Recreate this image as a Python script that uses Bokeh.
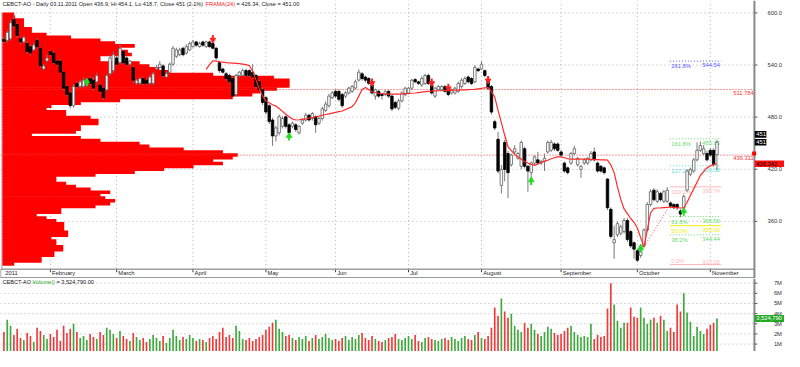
import numpy as np
from bokeh.plotting import figure
from bokeh.models import Range1d, Label, ColumnDataSource
from bokeh.layouts import column
from bokeh.embed import file_html
from bokeh.resources import INLINE
from bokeh.core.properties import value

FONT = "Liberation Sans"

# ---------------- data ----------------
opens = [569.5, 568.4, 570.3, 592.3, 586.8, 570.3, 566.6, 564.8, 561.0, 557.4,
         568.4, 559.3, 535.4, 544.6, 555.6, 553.8, 544.6, 544.6, 531.7, 515.2,
         507.9, 493.2, 518.9, 515.2, 515.2, 517.0, 524.4, 522.6, 520.7, 517.0,
         513.4, 511.5, 529.9, 533.6, 548.2, 542.7, 555.6, 548.2, 540.9, 537.2,
         518.9, 518.9, 524.4, 522.6, 518.9, 518.9, 535.4, 537.2, 539.0, 526.2,
         531.7, 540.9, 550.1, 551.9, 559.3, 553.8, 557.4, 561.1, 566.6, 561.1,
         566.6, 561.1, 566.6, 564.8, 559.3, 542.7, 535.4, 529.9, 528.0, 524.4,
         506.0, 528.0, 528.0, 533.6, 533.6, 531.7, 528.0, 520.7, 511.5, 502.4,
         493.2, 476.7, 458.3, 462.0, 469.4, 480.4, 471.2, 469.4, 471.2, 462.0,
         473.0, 476.7, 482.2, 478.5, 480.4, 473.0, 478.5, 487.7, 493.2, 502.4,
         509.7, 509.7, 506.0, 504.2, 507.9, 509.7, 513.4, 522.6, 529.9, 526.2,
         524.4, 517.0, 504.2, 509.7, 506.0, 506.0, 509.7, 504.2, 496.8, 490.2,
         498.7, 506.0, 507.8, 513.3, 523.2, 520.7, 517.0, 518.8, 528.0, 517.0,
         504.2, 511.5, 511.5, 515.2, 513.3, 507.8, 507.8, 509.7, 515.2, 518.8,
         526.2, 524.4, 520.7, 535.4, 535.4, 533.5, 522.5, 515.2, 474.8, 454.6,
         401.4, 450.9, 438.1, 425.2, 439.9, 432.6, 423.4, 443.6, 423.4, 416.1,
         427.1, 430.8, 427.1, 428.9, 439.9, 441.8, 449.1, 449.1, 439.9, 427.1,
         421.6, 427.1, 438.1, 425.2, 419.8, 427.1, 427.1, 430.8, 439.9, 427.1,
         423.4, 421.6, 408.7, 373.9, 335.3, 344.5, 346.4, 348.2, 361.0, 348.2,
         335.3, 326.2, 320.7, 331.7, 350.0, 379.4, 395.9, 383.1, 392.2, 383.1,
         383.1, 381.2, 379.4, 379.4, 372.0, 375.7, 395.9, 414.2, 417.9, 430.8,
         441.8, 438.1, 438.1, 441.8, 441.8, 436.9]
highs = [572, 580, 592, 598, 589, 572, 574, 567, 563, 566,
         571, 561, 541, 552, 557, 556, 546, 547, 533, 517,
         510, 518, 521, 523, 526, 524, 527, 526, 531, 519,
         515, 530, 551, 556, 551, 565, 557, 550, 546, 539,
         524, 526, 526, 524, 528, 532, 540, 544.6, 541, 532,
         543, 562, 560, 560, 561, 564, 567, 569, 568, 567,
         568, 568, 568, 567, 561, 545, 537, 532, 530, 526,
         530, 533, 536, 536, 535, 541, 530, 523, 514, 504,
         495, 479, 470, 483, 481, 482, 473, 475, 473, 471,
         479, 485, 484, 486, 482, 480, 492, 498, 507, 510,
         512, 511, 508, 510, 515, 517, 523, 535, 532, 528,
         526, 519, 513, 511, 507, 511, 511, 506, 499, 501,
         510, 515, 515, 524, 525, 522, 527, 530, 530, 519,
         515, 517, 517, 517, 515, 513, 515, 521, 525, 527,
         528, 526, 540, 537, 544.5, 535, 524, 517, 477, 463,
         425, 454, 441, 438, 447.6, 440, 453, 446, 425, 429,
         436, 440, 431, 438, 453, 454, 451, 451, 442, 429,
         423, 440, 447, 434, 425, 433, 434, 441, 445, 429,
         425, 423, 410, 376, 355, 360, 356, 364, 364, 350,
         337, 328, 334, 352, 382, 397, 398, 397, 394, 396,
         399.5, 383, 381, 381, 374, 391, 420, 422, 433, 450.9,
         452, 448, 441, 444, 444, 454.1]
lows = [565, 566, 568, 583, 572, 564, 565, 553, 551, 556,
        559, 537, 534, 543, 550, 541, 539, 530, 511, 504,
        490, 491, 513, 513, 514, 515, 517, 511, 519, 508,
        500, 510, 528, 531, 539, 541, 541, 539, 539, 520,
        517, 517, 517, 517, 517, 517, 534, 536, 526, 525,
        530, 539, 548, 550, 550, 552, 556, 560, 561, 560,
        561, 560, 560, 558, 546, 531, 530, 522, 519, 502,
        504, 526, 527, 526, 526, 524, 513, 510, 494, 483,
        472, 447, 452, 459, 467, 467, 459, 467, 463, 460,
        471, 475, 475, 476, 462, 471, 476, 486, 491, 501,
        502, 498, 491, 502, 506, 508, 512, 521, 522, 520,
        517, 506, 500, 502, 500, 504, 502, 487, 489, 488,
        497, 504, 506, 511, 519, 517, 515, 517, 517, 506,
        502, 510, 510, 508, 504, 506, 506, 508, 513, 517,
        519, 517, 519, 532, 534, 526, 511, 483, 465, 415,
        392, 406, 386.7, 423, 438, 431, 420, 421, 394, 402,
        425, 425, 425, 418, 438, 440, 441, 440, 434, 416,
        414, 425, 436, 423, 410, 425, 425, 429, 429, 416,
        416, 414, 373, 340, 317, 342, 344, 346, 336, 329,
        317, 313, 318, 330, 348, 377, 383, 381, 383, 381,
        381, 375, 374, 373, 364.7, 374, 394, 412, 416, 429,
        440, 436, 429, 434, 423, 418.7]
closes = [567.3, 577.6, 588.6, 585.0, 574.0, 566.6, 572.0, 555.6, 553.8, 563.0,
          561.0, 539.0, 539.0, 548.2, 551.9, 542.7, 540.9, 531.7, 513.4, 506.0,
          493.2, 515.2, 515.2, 520.7, 522.6, 522.6, 518.9, 513.4, 528.0, 509.7,
          502.4, 528.0, 548.2, 551.9, 540.9, 559.3, 542.7, 540.9, 544.6, 522.6,
          522.6, 524.4, 518.9, 518.9, 526.2, 529.9, 537.2, 540.9, 528.0, 529.9,
          540.9, 559.3, 557.4, 557.4, 551.9, 561.1, 564.8, 566.6, 562.9, 564.8,
          562.9, 566.6, 561.1, 559.3, 548.2, 533.6, 531.7, 524.4, 520.7, 504.2,
          528.0, 531.7, 533.6, 528.0, 528.0, 526.2, 515.2, 511.5, 496.9, 485.9,
          474.9, 458.3, 467.5, 480.4, 478.5, 469.4, 462.0, 473.0, 465.7, 469.4,
          476.7, 482.2, 476.7, 484.0, 471.2, 478.5, 489.5, 495.0, 504.2, 507.9,
          504.2, 500.5, 493.2, 507.9, 513.4, 515.2, 520.7, 531.7, 524.4, 522.6,
          518.9, 507.8, 511.5, 504.2, 504.9, 509.7, 504.2, 489.5, 491.3, 498.7,
          507.8, 513.3, 513.3, 522.5, 520.7, 518.8, 524.4, 528.0, 518.8, 507.8,
          513.3, 515.2, 515.2, 509.7, 506.0, 511.5, 513.3, 518.8, 522.5, 524.4,
          520.7, 518.8, 537.2, 533.5, 540.9, 528.0, 513.3, 485.8, 467.5, 417.9,
          419.8, 419.8, 416.1, 436.3, 443.6, 438.1, 450.9, 423.4, 417.9, 427.1,
          434.4, 427.1, 428.9, 432.6, 450.9, 450.9, 443.6, 441.8, 436.3, 417.9,
          416.1, 438.1, 443.6, 432.6, 423.4, 430.8, 432.6, 438.1, 430.8, 417.9,
          417.9, 416.1, 375.7, 342.7, 339.0, 357.4, 353.7, 361.0, 339.0, 331.7,
          328.0, 315.2, 331.7, 350.0, 379.4, 394.1, 384.9, 394.1, 384.9, 394.1,
          395.9, 377.5, 375.7, 375.7, 368.4, 388.6, 417.9, 419.8, 430.8, 441.8,
          447.3, 443.6, 430.8, 436.3, 425.2, 451.0]
volume_m = [2.2, 3.4, 2.8, 1.9, 2.5, 1.6, 1.4, 2.1, 1.8, 1.2, 2.6, 2.3, 1.9, 1.5, 2.0, 1.7, 2.4, 1.3, 2.8, 2.1,
            2.5, 3.0, 2.2, 1.6, 1.8, 1.4, 2.0, 1.7, 1.5, 2.2, 1.9, 2.6, 2.4, 2.0, 1.6, 2.3, 1.8, 1.5, 1.3, 2.1,
            1.7, 1.4, 1.6, 1.2, 1.5, 1.9, 1.6, 1.3, 1.8, 1.1, 1.6, 2.4, 1.8, 1.4, 1.7, 1.5, 1.9, 1.6, 1.3, 1.5,
            1.4, 1.2, 1.6, 1.8, 1.5, 2.2, 2.6, 1.7, 1.9, 1.6, 2.8, 2.3, 1.5, 1.4, 1.6, 1.3, 1.5, 1.7, 1.9, 2.4,
            2.7, 3.1, 3.4, 2.5, 2.2, 1.8, 1.9, 1.6, 1.4, 1.7, 1.5, 1.8, 1.3, 1.6, 1.9, 1.5, 1.7, 2.0, 1.6, 1.4,
            1.5, 1.3, 1.6, 1.8, 1.4, 1.7, 1.5, 1.9, 2.1, 1.6, 1.4, 1.8, 1.5, 1.3, 1.2, 1.4, 1.6, 1.7, 2.0, 1.5,
            1.4, 1.6, 1.8, 1.5, 1.9, 1.3, 1.2, 1.6, 1.7, 1.5, 1.4, 1.3, 1.5, 1.6, 1.4, 1.7, 1.5, 1.3, 1.6, 1.8,
            1.5, 1.4, 1.9, 2.2, 1.6, 1.5, 1.8, 2.6, 4.6, 3.8, 5.5, 4.2, 3.6, 4.0, 2.8, 2.4, 2.2, 3.1, 2.6, 3.0,
            2.4, 2.0, 1.8, 2.2, 2.7, 2.5, 2.1, 1.9, 2.0, 2.3, 2.6, 2.8, 2.2, 1.9, 1.7, 1.8, 1.7, 3.0, 1.5, 1.9,
            1.7, 1.8, 4.5, 7.0, 4.9,
            3.3, 2.6, 3.1, 3.1, 4.6, 3.7, 3.6, 4.6, 3.6, 3.0, 3.4, 3.6, 3.1, 3.8, 3.4, 2.3, 2.6, 2.2, 4.9, 4.2,
            6.0, 4.1, 3.2, 1.8, 2.7, 2.3, 2.0, 2.5, 2.9, 3.1, 3.52479]

frama_start = 61
frama = [535.0, 540.5, 544.9, 544.4, 543.8, 543.3, 542.7, 542.4, 542.2, 541.9,
         541.6, 541.1, 540.5, 539.4, 532.8, 522.9, 513.0, 504.2, 498.7, 496.5,
         494.3, 492.7, 489.9, 486.6, 483.3, 480.5, 477.8, 476.7, 477.0, 477.5,
         478.0, 478.7, 479.4, 480.2, 481.1, 482.2, 483.0, 483.7, 484.6, 485.5,
         486.3, 487.1, 488.8, 490.4, 492.1, 496.5, 504.2, 511.9, 514.1, 511.9,
         509.2, 508.1, 507.5, 507.2, 506.9, 506.6, 506.4, 506.4, 506.5, 506.7,
         507.0, 507.2, 507.5, 507.8, 508.3, 508.8, 509.3, 509.7, 509.9, 510.2,
         510.4, 510.5, 510.7, 510.8, 510.8, 511.0, 511.1, 511.4, 511.5, 511.7,
         511.8, 511.9, 512.6, 513.2, 513.8, 514.1, 509.7, 503.1, 487.7, 473.7,
         459.1, 445.9, 441.5, 437.1, 434.3, 431.6, 428.8, 427.2, 425.5, 424.4,
         426.0, 427.7, 429.3, 430.4, 432.1, 433.2, 434.3, 434.3, 433.2, 432.1,
         431.6, 431.6, 431.6, 431.6, 431.6, 431.6, 431.3, 431.1, 431.0, 430.9,
         430.7, 430.5, 425.0, 416.1, 399.6, 385.3, 374.3, 368.8, 363.3, 358.9,
         352.3, 341.3, 330.3, 350.1, 369.9, 374.9, 375.4, 375.6, 375.9, 376.2,
         376.5, 376.2, 375.8, 375.4, 375.4, 382.0, 389.7, 397.4, 405.1, 412.8,
         417.2, 421.6, 423.8, 425.5, 426.34]

trend_idx = [193.1, 200.5]
trend_price = [331.4, 376.5]

up_idx = [25, 86, 159, 192, 205]
up_tip = [523.3, 460.5, 409.5, 331.7, 373.9]
down_idx = [63, 111, 129, 134, 146]
down_tip = [567.0, 517.0, 517.0, 511.0, 520.0]

month_idx = [14, 34, 57, 79, 100, 122, 144, 168, 191, 213]
month_names = ["February", "March", "April", "May", "Jun", "Jul",
               "August", "September", "October", "November"]
year_label = "2011"

price_ticks = [360, 420, 480, 540, 600]
price_tick_labels = ["360.0", "420.0", "480.0", "540.0", "600.0"]
vol_ticks = [1e6, 2e6, 3e6, 4e6, 5e6, 6e6, 7e6]
vol_tick_labels = ["1M", "2M", "3M", "4M", "5M", "6M", "7M"]

# volume-by-price profile (bin centres from the top, relative volume)
vp_top_center = 598.34
vp_bin = 3.303
vp_len = [12, 13, 22, 22, 22, 30, 30, 45, 70, 100, 115, 135, 120, 128, 132, 100, 100, 140, 150, 160,
          170, 215, 277, 293, 293, 293, 280, 263, 255, 235, 120, 80, 50, 45, 65, 65, 90, 98, 98, 80,
          80, 75, 30, 80, 100, 140, 150, 185, 225, 240, 235, 215, 225, 195, 165, 135, 95, 55, 55, 65,
          75, 90, 110, 100, 105, 115, 110, 95, 60, 60, 35, 45, 55, 63, 63, 63, 67, 67, 50, 55,
          55, 62, 62, 53, 53, 40, 40, 12]

fib_pct = ["261.8%", "161.8%", "127.2%", "100.0%", "61.8%", "50.0%", "38.2%", "0.0%"]
fib_level = [544.54, 455.05, 424.08, 399.74, 365.56, 355.00, 344.44, 310.26]
fib_text = ["544.54", "455.05", "424.08", "399.74", "365.56", "355.00", "344.44", "310.26"]
fib_color = ["#5555ff", "#66dd66", "#66dddd", "#ffb8b8", "#66dd66", "#eeee00", "#66dd66", "#ffb8b8"]
fib_solid = [False, False, False, True, False, True, False, True]
fib_x0, fib_x1 = 200.8, 216.3

hlines = [511.784, 436.311]
hline_text = ["511.784", "436.311"]

last_close_text = "451"
frama_last_text = "426.342"
last_vol_text = "3,524,790"

n = len(closes)
assert len(opens) == n and len(highs) == n and len(lows) == n and len(volume_m) == n
idx = np.arange(n)

# ---------------- geometry ----------------
W = 784
H_PRICE, H_VOL = 278, 73
XR = Range1d(-1.03, 235.37)
AX = 226.3            # right axis position (index units)
X_LEFT = XR.start
BAND_TOP, BAND_BOT = 304.95, 295.0
FS = "5.8px"


def make_fig(h, yr):
    f = figure(width=W, height=h, x_range=XR, y_range=yr, output_backend="svg",
               toolbar_location=None, x_axis_location=None, y_axis_location=None,
               min_border_left=0, min_border_right=0, min_border_top=0, min_border_bottom=0)
    f.outline_line_color = None
    f.xgrid.visible = False
    f.ygrid.visible = False
    f.background_fill_color = "white"
    f.border_fill_color = "white"
    return f


# ---------------- price panel ----------------
p = make_fig(H_PRICE, Range1d(294.2, 614.3))

# grid and left frame edge
p.segment(x0=X_LEFT, x1=AX, y0=price_ticks, y1=price_ticks, line_color="#b0b0b0",
          line_dash="1 3", line_width=1)
p.segment(x0=month_idx, x1=month_idx, y0=BAND_TOP, y1=614.3, line_color="#b0b0b0",
          line_dash="1 3", line_width=1)
p.segment(x0=[-0.6], x1=[-0.6], y0=[BAND_TOP], y1=[600.5], line_color="#a0a0a0", line_width=1)

# volume profile
p.extra_x_ranges = {"vp": Range1d(-2, 798)}
vp_price = vp_top_center - vp_bin * np.arange(len(vp_len))
p.hbar(y=vp_price, height=vp_bin * 1.25, left=0, right=vp_len, x_range_name="vp",
       fill_color="#ff0000", line_color=None)

# red dotted levels
p.segment(x0=X_LEFT, x1=AX, y0=hlines, y1=hlines, line_color="#ff3030", line_dash="1 2", line_width=1)
p.text(x=AX - 0.2, y=hlines, text=hline_text, text_align="right", text_baseline="top",
       text_font=value(FONT), text_font_size=FS, text_color="#ff3030", y_offset=1)

# fibonacci levels
for lv, col, solid in zip(fib_level, fib_color, fib_solid):
    p.segment(x0=[fib_x0], x1=[fib_x1], y0=[lv], y1=[lv], line_color=col,
              line_width=1, line_dash="solid" if solid else "1 2")
fsrc = ColumnDataSource(dict(y=fib_level[:-1], pct=fib_pct[:-1], val=fib_text[:-1], c=fib_color[:-1]))
p.text(x=fib_x0 + 0.4, y="y", text="pct", source=fsrc, text_color="c", text_align="left",
       text_baseline="top", y_offset=2, text_font=value(FONT), text_font_size=FS)
p.text(x=fib_x1 - 0.4, y="y", text="val", source=fsrc, text_color="c", text_align="right",
       text_baseline="top", y_offset=2, text_font=value(FONT), text_font_size=FS)
# lowest level: label above its line so that it stays readable above the date band
p.text(x=[fib_x0 + 0.4], y=[fib_level[-1]], text=[fib_pct[-1]], text_color=fib_color[-1],
       text_align="left", text_baseline="bottom", y_offset=-1, text_font=value(FONT), text_font_size=FS)
p.text(x=[fib_x1 - 0.4], y=[fib_level[-1]], text=[fib_text[-1]], text_color=fib_color[-1],
       text_align="right", text_baseline="bottom", y_offset=-1, text_font=value(FONT), text_font_size=FS)

# candles
o = np.array(opens); c = np.array(closes)
up = c >= o
csrc = ColumnDataSource(dict(x=idx, hi=highs, lo=lows, top=np.maximum(o, c), bot=np.minimum(o, c),
                             fill=np.where(up, "white", "black"),
                             line=np.where(up, "#606060", "black")))
p.segment(x0="x", x1="x", y0="lo", y1="hi", source=csrc, line_color="#7a7a7a", line_width=1)
p.vbar(x="x", width=0.75, top="top", bottom="bot", source=csrc, fill_color="fill",
       line_color="line", line_width=0.8)

# FRAMA line and trend line
p.line(x=np.arange(frama_start, frama_start + len(frama)), y=frama, line_color="#ff2a2a", line_width=1.2)
p.line(x=trend_idx, y=trend_price, line_color="#ff4040", line_dash="1 2", line_width=1)

# arrows
ui = np.array(up_idx); ut = np.array(up_tip)
p.segment(x0=ui, x1=ui, y0=ut - 7.5, y1=ut - 2, line_color="#22dd22", line_width=2)
p.scatter(x=ui, y=ut - 2, marker="triangle", size=5.5, fill_color="#22dd22", line_color="#22dd22")
di = np.array(down_idx); dt = np.array(down_tip)
p.segment(x0=di, x1=di, y0=dt + 7.5, y1=dt + 2, line_color="#ff2020", line_width=2)
p.scatter(x=di, y=dt + 2, marker="inverted_triangle", size=5.5, fill_color="#ff2020", line_color="#ff2020")

# date band
p.quad(left=X_LEFT + 0.05, right=AX, bottom=BAND_BOT, top=BAND_TOP, fill_color="white",
       line_color="#707070", line_width=1)
p.segment(x0=month_idx, x1=month_idx, y0=BAND_TOP - 0.8, y1=BAND_TOP - 3.5, line_color="#404040", line_width=1)
p.text(x=[0.4] + [m + 0.5 for m in month_idx], y=300.0, text=[year_label] + month_names,
       text_align="left", text_baseline="middle", text_font=value(FONT), text_font_size=FS,
       text_color="#222222")

# right axis (drawn inside the frame)
p.segment(x0=[AX], x1=[AX], y0=[294.2], y1=[614.3], line_color="#888888", line_width=2)
p.segment(x0=AX, x1=AX + 0.9, y0=price_ticks, y1=price_ticks, line_color="#606060", line_width=1)
p.text(x=234.6, y=price_ticks, text=price_tick_labels, text_align="right", text_baseline="middle",
       text_font=value(FONT), text_font_size=FS, text_color="#333333")

# right-axis value boxes
box_src = ColumnDataSource(dict(
    l=[AX + 0.1, AX + 0.1, AX + 0.1], r=[229.9, 229.9, 235.37],
    b=[456.4, 447.2, 422.6], t=[464.0, 454.8, 430.1],
    y=[460.2, 451.0, 426.34], txt=[last_close_text, last_close_text, frama_last_text],
    fc=["black", "black", "#ff1010"], tc=["white", "white", "black"]))
p.quad(left="l", right="r", bottom="b", top="t", source=box_src, fill_color="fc", line_color=None)
p.text(x="l", y="y", text="txt", source=box_src, text_color="tc", x_offset=1.5,
       text_align="left", text_baseline="middle", text_font=value(FONT), text_font_size=FS)
p.scatter(x=[AX - 0.1], y=[hlines[1] + 1.8], marker="square", size=4, fill_color="#ff0000", line_color=None)

# title
p.add_layout(Label(x=2, y=613.8, x_units="screen", y_units="data", text_baseline="top",
                   text="CEBCT-AO - Daily 03.11.2011 Open 436.9, Hi 454.1, Lo 418.7, Close 451 (2.1%)",
                   text_font=FONT, text_font_size="5.6px", text_color="#222222"))
p.add_layout(Label(x=205, y=613.8, x_units="screen", y_units="data", text_baseline="top",
                   text="FRAMA(24)", text_font=FONT, text_font_size="5.6px", text_color="#ff2020"))
p.add_layout(Label(x=236, y=613.8, x_units="screen", y_units="data", text_baseline="top",
                   text="= 426.34, Close = 451.00", text_font=FONT, text_font_size="5.6px",
                   text_color="#222222"))

# ---------------- volume panel ----------------
v = make_fig(H_VOL, Range1d(0.27e6, 7.46e6))
vol = np.array(volume_m) * 1e6
v.segment(x0=X_LEFT, x1=AX, y0=vol_ticks, y1=vol_ticks, line_color="#b0b0b0", line_dash="1 3", line_width=1)
vsrc = ColumnDataSource(dict(x=idx, top=vol, col=np.where(up, "#3caa3c", "#f03a3a")))
v.vbar(x="x", width=0.5, top="top", bottom=0, source=vsrc, fill_color="col", line_color=None)
v.segment(x0=[AX], x1=[AX], y0=[0.27e6], y1=[7.46e6], line_color="#888888", line_width=2)
v.segment(x0=AX, x1=AX + 0.9, y0=vol_ticks, y1=vol_ticks, line_color="#606060", line_width=1)
v.text(x=234.6, y=vol_ticks, text=vol_tick_labels, text_align="right", text_baseline="middle",
       text_font=value(FONT), text_font_size=FS, text_color="#333333")
v.quad(left=[AX + 0.1], right=[235.37], bottom=[3.18e6], top=[3.87e6], fill_color="#22aa22", line_color=None)
v.text(x=[AX + 0.1], y=[3.525e6], text=[last_vol_text], text_color="white", x_offset=1.5,
       text_align="left", text_baseline="middle", text_font=value(FONT), text_font_size=FS)
v.add_layout(Label(x=2, y=7.4e6, x_units="screen", y_units="data", text_baseline="top",
                   text="CEBCT-AO - ", text_font=FONT, text_font_size="5.6px", text_color="#222222"))
v.add_layout(Label(x=32, y=7.4e6, x_units="screen", y_units="data", text_baseline="top",
                   text="Volume()", text_font=FONT, text_font_size="5.6px", text_color="#22aa22"))
v.add_layout(Label(x=56, y=7.4e6, x_units="screen", y_units="data", text_baseline="top",
                   text="= 3,524,790.00", text_font=FONT, text_font_size="5.6px", text_color="#222222"))

layout = column(p, v, spacing=0)
open("out.html", "w").write(file_html(layout, INLINE))
